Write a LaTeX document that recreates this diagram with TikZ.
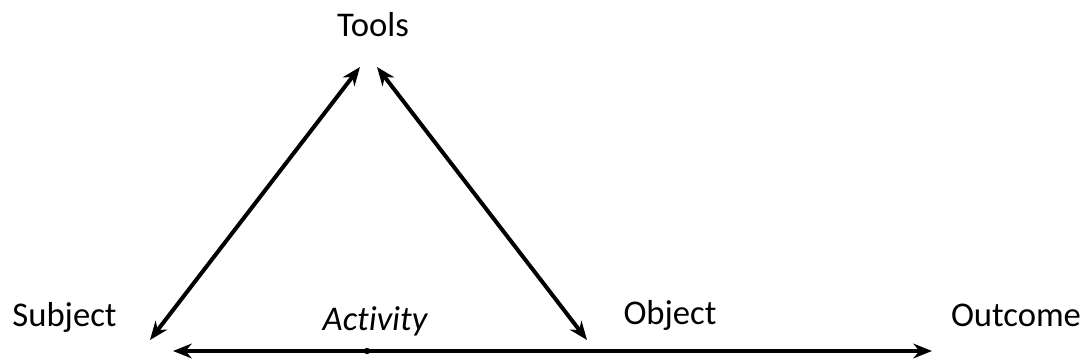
\documentclass[tikz,border=0pt]{standalone}
\usepackage{fontspec}
\setmainfont{Carlito}[Ligatures=NoCommon]
\usepackage{tikz}
\usetikzlibrary{arrows.meta,positioning}

\begin{document}
\begin{tikzpicture}[x=0.75pt,y=-0.75pt]
  \tikzstyle{label}=[inner sep=0pt,anchor=base,font=\fontsize{26}{31}\selectfont]
  \tikzstyle{link}=[line width=3pt,{Stealth[length=14pt,width=11pt]}-{Stealth[length=14pt,width=11pt]}]

  \useasboundingbox (0,0) rectangle (1089,363);

  \node[label] (tools) at (373,37) {Tools};
  \node[label] (subject) at (64.5,326) {Subject};
  \node[label] (object) at (670,325) {Object};
  \node[label] (outcome) at (1016,326) {Outcome};
  \node[label,font=\fontsize{26}{31}\selectfont\itshape] (activity) at (375,330) {Activity};

  % arrow ends
  \coordinate (subjtip) at (150,340);
  \coordinate (toolsl) at (360,67);
  \coordinate (toolsr) at (377,67);
  \coordinate (objtip) at (587,340);
  \coordinate (lineleft) at (173,351);
  \coordinate (lineright) at (932,351);
  \coordinate (mark) at (367,351);

  \draw[link] (subjtip) -- (toolsl);
  \draw[link] (toolsr) -- (objtip);
  \draw[link] (lineleft) -- (lineright);
  \fill (mark) circle (2.4pt);
\end{tikzpicture}
\end{document}
